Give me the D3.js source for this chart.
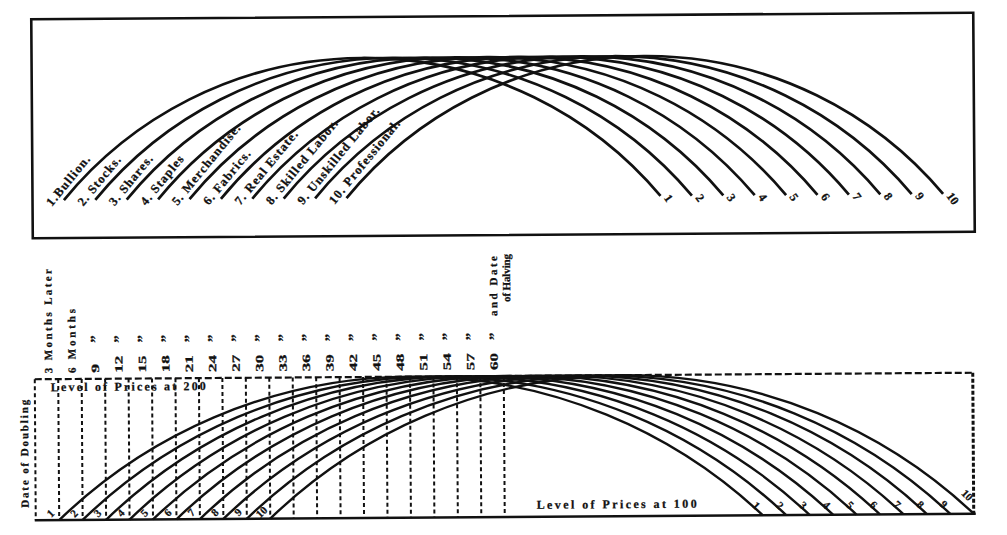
<!DOCTYPE html>
<html>
<head>
<meta charset="utf-8">
<script src="https://cdn.jsdelivr.net/npm/d3@7"></script>
<style>
  html, body { margin: 0; padding: 0; background: #fff; }
  svg { display: block; }
  text { font-family: "Liberation Serif", "DejaVu Serif", serif; font-weight: bold; fill: #111; stroke: #111; stroke-width: 0.25px; }
</style>
</head>
<body>
<svg id="chart" width="1007" height="535"></svg>
<script>
// ---------- DATA ----------
const seriesNames = ["1.Bullion.", "2. Stocks.", "3. Shares.", "4. Staples", "5. Merchandise.",
                     "6. Fabrics.", "7. Real Estate.", "8. Skilled Labor.", "9. Unskilled Labor.", "10. Professional."];
const seriesNumbers = ["1", "2", "3", "4", "5", "6", "7", "8", "9", "10"];
// upper diagram: start / end of each price cycle (months), price level at ends and at peak
const topStart = [4, 8, 12, 16, 20, 24, 28, 32, 36, 40];
const topEnd   = [80, 84, 88, 92, 96, 100, 104, 108, 112, 116];
// lower diagram: month when the rise begins and when the fall is complete
const bottomStart = [3, 6, 9, 12, 15, 18, 21, 24, 27, 30];
const bottomEnd   = [93, 96, 99, 102, 105, 108, 111, 114, 117, 120];
const baseLevel = 100;
const peakLevel = 200;
// month ticks of lower diagram
const monthTicks = [3, 6, 9, 12, 15, 18, 21, 24, 27, 30, 33, 36, 39, 42, 45, 48, 51, 54, 57, 60];
const monthLabels = ["3 Months Later", "6 Months", "9", "12", "15", "18", "21", "24", "27", "30",
                     "33", "36", "39", "42", "45", "48", "51", "54", "57", "60"];

// ---------- SETUP ----------
const svg = d3.select("#chart");
svg.append("rect").attr("width", 1007).attr("height", 535).attr("fill", "#fff");
const g = svg.append("g").attr("transform", "rotate(-0.4 503 267)");

const xT = d3.scaleLinear().domain([0, 120]).range([33, 975]);
const yT = d3.scaleLinear().domain([100, 200]).range([197, 57]);
const xB = d3.scaleLinear().domain([0, 120]).range([34, 972]);
const yB = d3.scaleLinear().domain([100, 200]).range([517, 376]);

function arcGeom(x0, x1, yb, yt) {
  const half = (x1 - x0) / 2, h = yb - yt;
  const R = (h * h + half * half) / (2 * h);
  return { cx: x0 + half, cy: yt + R, R, half };
}
function arcPath(x0, x1, yb, yt) {
  const a = arcGeom(x0, x1, yb, yt);
  const p = d3.path();
  p.moveTo(x0, yb);
  const a0 = Math.atan2(yb - a.cy, x0 - a.cx), a1 = Math.atan2(yb - a.cy, x1 - a.cx);
  p.arc(a.cx, a.cy, a.R, a0, a1, false);
  return p.toString();
}

// ---------- UPPER DIAGRAM ----------
const topG = g.append("g");
topG.append("rect")
  .attr("x", xT(0)).attr("y", 16)
  .attr("width", xT(120) - xT(0)).attr("height", 235 - 16)
  .attr("fill", "none").attr("stroke", "#111").attr("stroke-width", 2.6);

topG.selectAll("path.arc").data(d3.range(seriesNames.length)).join("path")
  .attr("class", "arc")
  .attr("d", i => arcPath(xT(topStart[i]), xT(topEnd[i]), yT(baseLevel), yT(peakLevel)))
  .attr("fill", "none").attr("stroke", "#111").attr("stroke-width", 2.7);

// names written along the rising end of each arc
topG.selectAll("text.name").data(d3.range(seriesNames.length)).join("text")
  .attr("class", "name")
  .attr("transform", i => {
    const xs = xT(topStart[i]), ys = yT(baseLevel);
    const a = arcGeom(xs, xT(topEnd[i]), ys, yT(peakLevel));
    const ang = Math.asin(a.half / a.R);            // rise angle at the end
    const dx = Math.cos(ang), dy = -Math.sin(ang);  // tangent direction
    const nx = dy, ny = -dx;                        // normal to upper-left
    const px = xs - 13 * dx + 5 * nx, py = ys - 13 * dy + 5 * ny;
    return `translate(${px},${py}) rotate(${-ang * 180 / Math.PI})`;
  })
  .attr("font-size", 12.5).attr("letter-spacing", 1.1)
  .text(i => seriesNames[i]);

topG.selectAll("text.num").data(d3.range(seriesNumbers.length)).join("text")
  .attr("class", "num")
  .attr("transform", i => `translate(${xT(topEnd[i]) + 3},${yT(baseLevel) + 2}) rotate(55)`)
  .attr("font-size", 12)
  .text(i => seriesNumbers[i]);

// ---------- LOWER DIAGRAM ----------
const botG = g.append("g");
const y0 = yB(baseLevel), y1 = yB(peakLevel);

botG.selectAll("line.grid").data(monthTicks).join("line")
  .attr("class", "grid")
  .attr("x1", d => xB(d)).attr("x2", d => xB(d))
  .attr("y1", y1).attr("y2", y0)
  .attr("stroke", "#111").attr("stroke-width", 2).attr("stroke-dasharray", "4,3");

botG.append("line").attr("x1", xB(0)).attr("x2", xB(0)).attr("y1", y1).attr("y2", y0)
  .attr("stroke", "#111").attr("stroke-width", 2).attr("stroke-dasharray", "4,3");
botG.append("line").attr("x1", xB(0)).attr("x2", xB(120)).attr("y1", y1).attr("y2", y1)
  .attr("stroke", "#111").attr("stroke-width", 2.2).attr("stroke-dasharray", "7,3");
botG.append("line").attr("x1", xB(120)).attr("x2", xB(120)).attr("y1", y1).attr("y2", y0)
  .attr("stroke", "#111").attr("stroke-width", 3).attr("stroke-dasharray", "4,2");
botG.append("line").attr("x1", xB(0) - 1).attr("x2", xB(120) + 2).attr("y1", y0).attr("y2", y0)
  .attr("stroke", "#111").attr("stroke-width", 2.6);

botG.selectAll("path.arc").data(d3.range(seriesNumbers.length)).join("path")
  .attr("class", "arc")
  .attr("d", i => arcPath(xB(bottomStart[i]), xB(bottomEnd[i]), y0, y1))
  .attr("fill", "none").attr("stroke", "#111").attr("stroke-width", 2.4);

botG.selectAll("text.ns").data(d3.range(seriesNumbers.length)).join("text")
  .attr("class", "ns")
  .attr("transform", i => `translate(${xB(bottomStart[i]) - 6},${y0 - 4}) rotate(-45)`)
  .attr("text-anchor", "middle").attr("font-size", 11)
  .text(i => seriesNumbers[i]);
botG.selectAll("text.ne").data(d3.range(seriesNumbers.length)).join("text")
  .attr("class", "ne")
  .attr("transform", i => `translate(${xB(bottomEnd[i]) - 9},${y0 - (i === 9 ? 16 : 7)}) rotate(45)`)
  .attr("text-anchor", "middle").attr("font-size", 11)
  .text(i => seriesNumbers[i]);

botG.selectAll("text.month").data(d3.range(monthTicks.length)).join("text")
  .attr("class", "month")
  .attr("transform", i => `translate(${xB(monthTicks[i]) - 6},${y1 - 6}) rotate(-90)`)
  .attr("font-size", 11)
  .each(function (i) {
    const t = d3.select(this);
    const s = monthLabels[i];
    t.text(s);
    if (i === 0) t.attr("textLength", 104).attr("lengthAdjust", "spacing");
    else if (i === 1) t.attr("textLength", 64).attr("lengthAdjust", "spacing");
    else t.attr("textLength", s.length === 1 ? 9 : 17).attr("lengthAdjust", "spacingAndGlyphs");
  });
botG.selectAll("text.ditto").data(monthTicks.slice(2)).join("text")
  .attr("class", "ditto")
  .attr("transform", d => `translate(${xB(d) - 4},${y1 - 36}) rotate(-90)`)
  .attr("font-size", 15)
  .text("\u201D");
botG.append("text")
  .attr("transform", `translate(${xB(60) - 6},${y1 - 60}) rotate(-90)`)
  .attr("font-size", 11).attr("textLength", 60).attr("lengthAdjust", "spacing")
  .text("and Date");
botG.append("text")
  .attr("transform", `translate(${xB(60) + 7},${y1 - 74}) rotate(-90)`)
  .attr("font-size", 11).attr("textLength", 48).attr("lengthAdjust", "spacing")
  .text("of Halving");

botG.append("text").attr("x", 50).attr("y", y1 + 12)
  .attr("font-size", 12).attr("textLength", 155).attr("lengthAdjust", "spacing")
  .text("Level of Prices at 200");
botG.append("text").attr("x", 535).attr("y", y0 - 8)
  .attr("font-size", 12).attr("textLength", 160).attr("lengthAdjust", "spacing")
  .text("Level of Prices at 100");
botG.append("text")
  .attr("transform", `translate(27,${(y0 + y1) / 2 + 4}) rotate(-90)`)
  .attr("text-anchor", "middle")
  .attr("font-size", 11).attr("textLength", 108).attr("lengthAdjust", "spacing")
  .text("Date of Doubling");
</script>
</body>
</html>
